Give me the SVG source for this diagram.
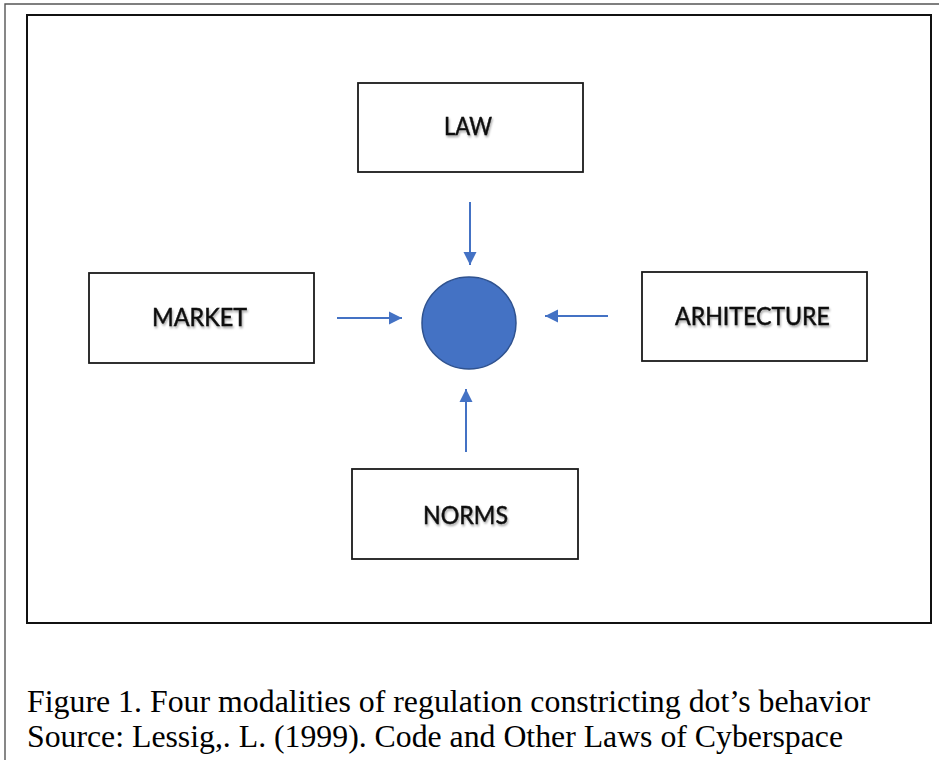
<svg xmlns="http://www.w3.org/2000/svg" width="939" height="760" viewBox="0 0 939 760">
  <style>
    .box { fill: #ffffff; stroke: #1a1a1a; stroke-width: 1.8; }
    .lbl { font-family: Lato, "Open Sans", "DejaVu Sans", sans-serif; font-size: 25px; fill: #111111; stroke: #111111; stroke-width: 0.5; text-anchor: middle; }
    .conn { stroke: #4472C4; stroke-width: 2; fill: none; }
    .cap { font-family: "Liberation Serif", "Times New Roman", serif; font-size: 31.5px; fill: #000000; }
  </style>
  <defs>
    <marker id="ah" markerUnits="userSpaceOnUse" markerWidth="14" markerHeight="14" viewBox="0 0 14 14" refX="13" refY="7" orient="auto">
      <path d="M0,0.5 L13,7 L0,13.5 Z" fill="#4472C4"/>
    </marker>
    <filter id="sh" x="-10%" y="-30%" width="130%" height="170%">
      <feDropShadow dx="1" dy="2" stdDeviation="1.2" flood-color="#000000" flood-opacity="0.35"/>
    </filter>
  </defs>

  <rect width="939" height="760" fill="#ffffff"/>
  <!-- outer page frame -->
  <path d="M5,770 L5,4 L945,4" fill="none" stroke="#555555" stroke-width="1.4"/>
  <!-- inner frame -->
  <rect x="27" y="15" width="904" height="608" fill="none" stroke="#111111" stroke-width="2"/>

  <g id="law">
    <rect class="box" x="358" y="83" width="225" height="89"/>
    <text class="lbl" x="468" y="135" filter="url(#sh)" textLength="48" lengthAdjust="spacingAndGlyphs">LAW</text>
  </g>
  <g id="market">
    <rect class="box" x="89" y="273" width="225" height="90"/>
    <text class="lbl" x="199.5" y="326" filter="url(#sh)" textLength="95" lengthAdjust="spacingAndGlyphs">MARKET</text>
  </g>
  <g id="architecture">
    <rect class="box" x="642" y="272" width="225" height="89"/>
    <text class="lbl" x="752.5" y="325" filter="url(#sh)" textLength="155" lengthAdjust="spacingAndGlyphs">ARHITECTURE</text>
  </g>
  <g id="norms">
    <rect class="box" x="352" y="469" width="226" height="90"/>
    <text class="lbl" x="465.5" y="524" filter="url(#sh)" textLength="85" lengthAdjust="spacingAndGlyphs">NORMS</text>
  </g>
  <g id="dot">
    <ellipse cx="469" cy="323" rx="47" ry="46" fill="#4472C4" stroke="#2F528F" stroke-width="1.5"/>
  </g>

  <g id="connectors">
    <line class="conn" x1="470" y1="202" x2="470" y2="265" marker-end="url(#ah)"/>
    <line class="conn" x1="337" y1="318" x2="402" y2="318" marker-end="url(#ah)"/>
    <line class="conn" x1="608" y1="316" x2="545" y2="316" marker-end="url(#ah)"/>
    <line class="conn" x1="466" y1="452" x2="466" y2="389" marker-end="url(#ah)"/>
  </g>

  <g id="caption">
    <text class="cap" x="27" y="712" textLength="843" lengthAdjust="spacingAndGlyphs">Figure 1. Four modalities of regulation constricting dot’s behavior</text>
    <text class="cap" x="27" y="747" textLength="816" lengthAdjust="spacingAndGlyphs">Source: Lessig,. L. (1999). Code and Other Laws of Cyberspace</text>
  </g>
</svg>
